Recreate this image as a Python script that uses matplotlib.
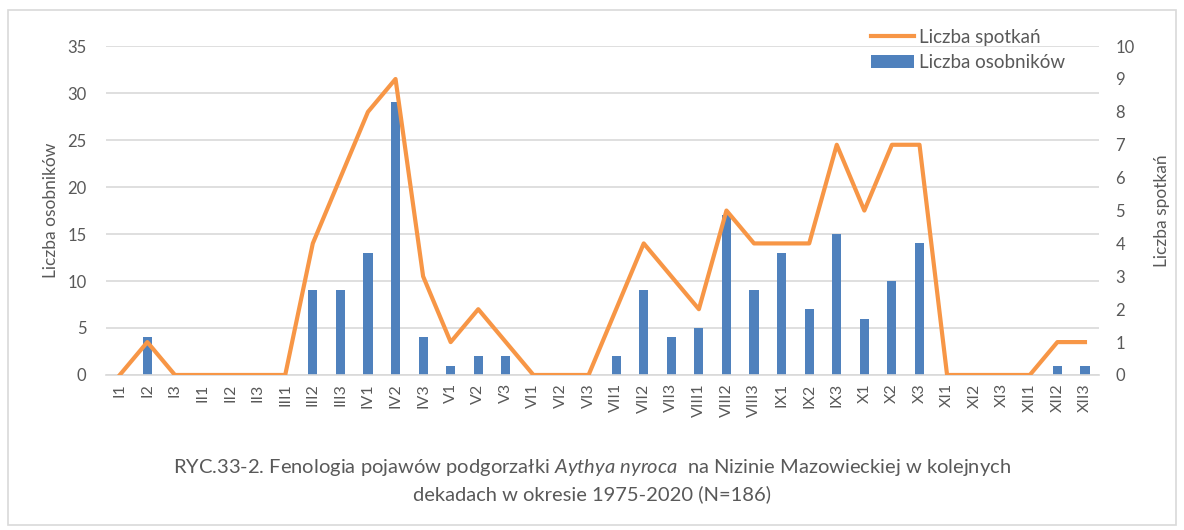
import matplotlib.pyplot as plt
import numpy as np
from matplotlib.patches import Rectangle

plt.rcParams['font.family'] = ['Lato', 'DejaVu Sans']
plt.rcParams['mathtext.fontset'] = 'custom'
plt.rcParams['mathtext.it'] = 'Lato:italic'
plt.rcParams['mathtext.rm'] = 'Lato'

categories = ["I1", "I2", "I3", "II1", "II2", "II3", "III1", "III2", "III3",
              "IV1", "IV2", "IV3", "V1", "V2", "V3", "VI1", "VI2", "VI3",
              "VII1", "VII2", "VII3", "VIII1", "VIII2", "VIII3", "IX1", "IX2", "IX3",
              "X1", "X2", "X3", "XI1", "XI2", "XI3", "XII1", "XII2", "XII3"]
osobnikow = [0, 4, 0, 0, 0, 0, 0, 9, 9,
             13, 29, 4, 1, 2, 2, 0, 0, 0,
             2, 9, 4, 5, 17, 9, 13, 7, 15,
             6, 10, 14, 0, 0, 0, 0, 1, 1]
spotkan = [0, 1, 0, 0, 0, 0, 0, 4, 6,
           8, 9, 3, 1, 2, 1, 0, 0, 0,
           2, 4, 3, 2, 5, 4, 4, 4, 7,
           5, 7, 7, 0, 0, 0, 0, 1, 1]

blue = "#4F81BD"
orange = "#F79646"
txt = "#595959"

fig = plt.figure(figsize=(11.84, 5.3), dpi=100)
# outer frame like the source picture
fig.patches.append(Rectangle((8 / 1184, 5 / 530), 1168 / 1184, 515 / 530,
                             transform=fig.transFigure, fill=False,
                             edgecolor="#D9D9D9", linewidth=1.2))

ax = fig.add_axes([0.0895, 0.2925, 0.8385, 0.6205])
x = np.arange(len(categories))
bars = ax.bar(x, osobnikow, width=0.33, color=blue, zorder=2, label="Liczba osobników")
ax.set_ylim(0, 35)
ax.set_yticks(range(0, 36, 5))
ax.set_xlim(-0.5, len(categories) - 0.5)
ax.set_xticks(x)
ax.set_xticklabels(categories, rotation=90, fontsize=11.5, color=txt)
ax.tick_params(axis="both", length=0, colors=txt)
ax.tick_params(axis="y", labelsize=12, pad=14)
ax.tick_params(axis="x", pad=6)
ax.grid(axis="y", color="#D9D9D9", linewidth=1.2, zorder=0)
ax.set_axisbelow(True)
for s in ["top", "left", "right"]:
    ax.spines[s].set_visible(False)
ax.spines["bottom"].set_color("#D9D9D9")
ax.spines["bottom"].set_linewidth(1.2)
ax.set_ylabel("Liczba osobników", fontsize=12.5, color=txt, labelpad=6)

ax2 = ax.twinx()
line, = ax2.plot(x, spotkan, color=orange, linewidth=3, solid_joinstyle="round",
                 zorder=3, label="Liczba spotkań")
ax2.set_ylim(0, 10)
ax2.set_yticks(range(0, 11))
ax2.tick_params(axis="y", length=0, colors=txt, labelsize=12, pad=12)
for s in ["top", "left", "right", "bottom"]:
    ax2.spines[s].set_visible(False)
ax2.set_ylabel("Liczba spotkań", fontsize=12.5, color=txt, labelpad=14)

fig.legend(handles=[line, bars], loc="upper left", bbox_to_anchor=(0.721, 0.978),
           frameon=False, fontsize=13.5, labelcolor=txt, handlelength=2.3,
           handletextpad=0.3, labelspacing=0.45)

fig.text(0.5, 0.118,
         "RYC.33-2. Fenologia pojawów podgorzałki $\\it{Aythya\\ nyroca}$  na Nizinie Mazowieckiej w kolejnych",
         ha="center", va="center", fontsize=14.5, color=txt)
fig.text(0.5, 0.068, "dekadach w okresie 1975-2020 (N=186)",
         ha="center", va="center", fontsize=14.5, color=txt)

fig.savefig("out.png", dpi=100)
